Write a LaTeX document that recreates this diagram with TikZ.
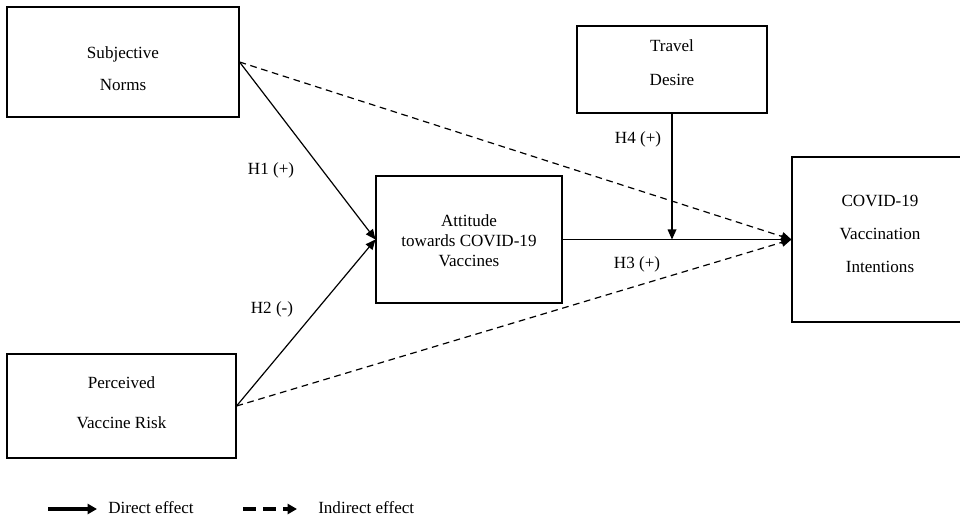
\documentclass[tikz,border=0pt]{standalone}
\usepackage{fontspec}
\setmainfont{Liberation Serif}
\usetikzlibrary{arrows.meta}
\begin{document}
\begin{tikzpicture}[x=0.75pt,y=-0.75pt,
  every node/.style={font=\fontsize{12.8}{15}\selectfont},
  boxnode/.style={draw,line width=0.8pt,inner sep=0pt,rectangle},
  txt/.style={align=center,inner sep=0pt},
  direct/.style={line width=0.9pt,-{Triangle[length=7.5pt,width=6.5pt]}},
  indirect/.style={line width=0.9pt,dash pattern=on 5pt off 3.5pt,-{Triangle[length=7.5pt,width=6.5pt]}},
  legdirect/.style={line width=2.6pt,-{Triangle[length=7pt,width=7.5pt]}},
  legindirect/.style={line width=2.6pt,dash pattern=on 10pt off 5pt,-{Triangle[length=7pt,width=7.5pt]}}]
\useasboundingbox (0,0) rectangle (960,516);

% boxes
\node (sn) [boxnode,minimum width=232*0.75pt,minimum height=110*0.75pt] at (123,62) {};
\node (pvr) [boxnode,minimum width=229*0.75pt,minimum height=104*0.75pt] at (121.5,406) {};
\node (att) [boxnode,minimum width=186*0.75pt,minimum height=127*0.75pt] at (469,239.5) {};
\node (td) [boxnode,minimum width=190*0.75pt,minimum height=87*0.75pt] at (672,69.5) {};
\node (cvi) [boxnode,minimum width=170*0.75pt,minimum height=165*0.75pt] at (877,239.5) {};

% texts
\node (snt) [txt] at (123,69) {Subjective\\[9pt]Norms};
\node (pvrt) [txt] at (121.5,403) {Perceived\\[15pt]Vaccine Risk};
\node (attt) [txt] at (469,240.5) {Attitude\\towards COVID-19\\Vaccines};
\node (tdt) [txt] at (672,62.5) {Travel\\[10pt]Desire};
\node (cvit) [txt] at (880,234) {COVID-19\\[10pt]Vaccination\\[10pt]Intentions};

% connectors
\draw[direct] (sn.east) -- (att.west);
\draw[direct] (pvr.east) -- (att.west);
\draw[direct] (att.east) -- (cvi.west);
\coordinate (mod) at (td.south |- att.east);
\draw[direct] (td.south) -- (mod);
\draw[indirect] (sn.east) -- (cvi.west);
\draw[indirect] (pvr.east) -- (cvi.west);

% labels
\node (h1) at (271,170) {H1 (+)};
\node (h2) at (272,309) {H2 (-)};
\node (h4) at (638,139) {H4 (+)};
\node (h3) at (637,264) {H3 (+)};

% legend
\coordinate (la) at (48,509);
\coordinate (lb) at (97,509);
\draw[legdirect] (la) -- (lb);
\node (ld) [anchor=west,inner sep=0pt] at (108,508) {Direct effect};
\coordinate (lc) at (243,509);
\coordinate (ldd) at (297,509);
\draw[legindirect] (lc) -- (ldd);
\node (li) [anchor=west,inner sep=0pt] at (318,508) {Indirect effect};
\end{tikzpicture}
\end{document}
